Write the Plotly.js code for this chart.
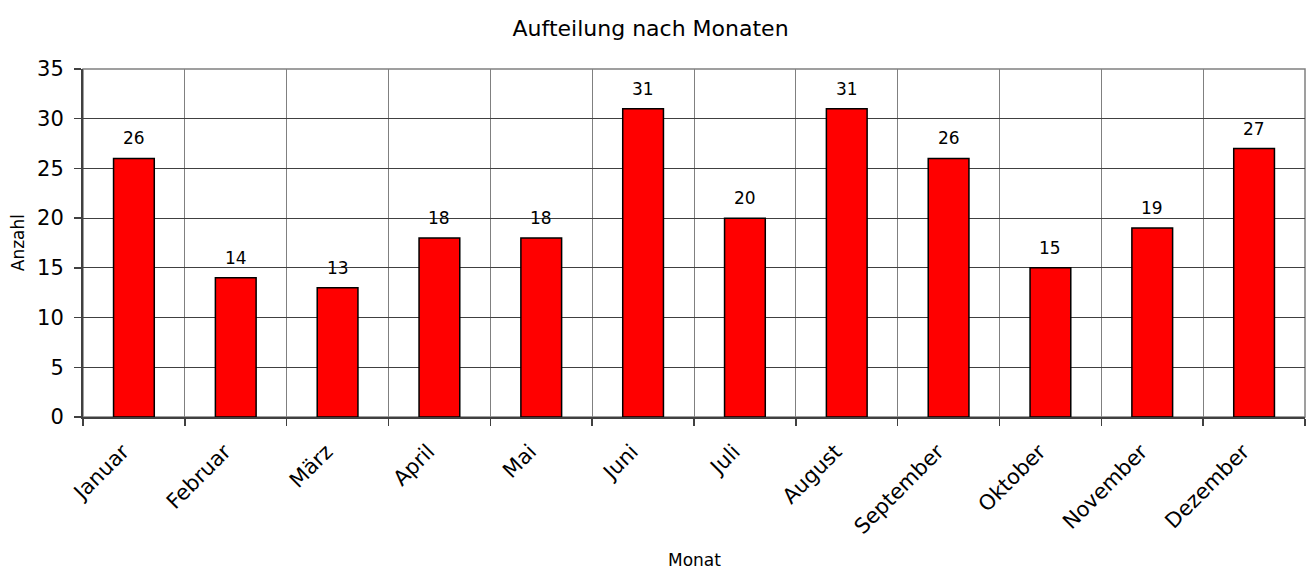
<!DOCTYPE html>
<html>
<head>
<meta charset="utf-8">
<script src="https://cdn.plot.ly/plotly-3.0.1.min.js"></script>
<style>
	html, body { margin: 0; padding: 0; background: #fff; }
	#chart { width: 1309px; height: 572px; }
</style>
</head>
<body>
<div id="chart"></div>
<script>
// Monate und Anzahl
const monate = ["Januar", "Februar", "März", "April", "Mai", "Juni", "Juli", "August", "September", "Oktober", "November", "Dezember"];
const anzahl = [26, 14, 13, 18, 18, 31, 20, 31, 26, 15, 19, 27];
const yTicks = [0, 5, 10, 15, 20, 25, 30, 35];

const schrift = "DejaVu Sans, Verdana, sans-serif";

let trace = {
	x: monate,
	y: anzahl,
	type: "bar",
	width: 0.4,
	marker: {
		color: "#ff0000",
		line: { color: "#000000", width: 1.5 },
	},
	hoverinfo: "x+y",
};

// Werte über den Balken
let beschriftungen = monate.map((m, i) => ({
	x: m,
	y: anzahl[i],
	text: String(anzahl[i]),
	showarrow: false,
	yanchor: "bottom",
	yshift: 8,
	font: { family: schrift, size: 17, color: "#000" },
}));

// Achsentitel
beschriftungen.push({
	text: "Monat",
	xref: "paper",
	yref: "paper",
	x: 0.5,
	y: -0.41,
	xanchor: "center",
	yanchor: "middle",
	showarrow: false,
	borderpad: 0,
	font: { family: schrift, size: 17, color: "#000" },
});
beschriftungen.push({
	text: "Anzahl",
	xref: "paper",
	yref: "paper",
	x: -0.053,
	y: 0.5,
	xanchor: "center",
	yanchor: "middle",
	textangle: -90,
	showarrow: false,
	font: { family: schrift, size: 17, color: "#000" },
});

let layout = {
	title: {
		text: "Aufteilung nach Monaten",
		font: { family: schrift, size: 22, color: "#000" },
		xref: "container",
		x: 0.497,
		xanchor: "center",
		yref: "container",
		y: 0.951,
		yanchor: "middle",
	},
	width: 1309,
	height: 572,
	margin: { l: 83, r: 4, t: 69, b: 155 },
	paper_bgcolor: "#fff",
	plot_bgcolor: "#fff",
	showlegend: false,
	bargap: 0.6,
	xaxis: {
		type: "category",
		tickson: "boundaries",
		ticks: "outside",
		ticklen: 7,
		tickcolor: "#404040",
		tickwidth: 1.5,
		showgrid: true,
		gridcolor: "#808080",
		gridwidth: 1,
		showline: true,
		linecolor: "#404040",
		linewidth: 2,
		tickangle: -45,
		ticklabelstandoff: 12,
		ticklabelshift: -11,
		tickfont: { family: schrift, size: 21, color: "#000" },
		fixedrange: true,
	},
	yaxis: {
		range: [0, 35],
		tickvals: yTicks,
		ticks: "outside",
		ticklen: 7,
		tickcolor: "#404040",
		tickwidth: 1.5,
		showgrid: true,
		gridcolor: "#404040",
		gridwidth: 1,
		zeroline: false,
		showline: true,
		linecolor: "#404040",
		linewidth: 2,
		ticklabelstandoff: 6,
		tickfont: { family: schrift, size: 21, color: "#000" },
		fixedrange: true,
	},
	shapes: [
		{
			type: "rect",
			xref: "paper",
			yref: "paper",
			x0: 0,
			x1: 1,
			y0: 0,
			y1: 1,
			line: { color: "#808080", width: 1.5 },
			layer: "below",
		},
	],
	annotations: beschriftungen,
};

Plotly.newPlot("chart", [trace], layout, { displayModeBar: false, staticPlot: true });
</script>
</body>
</html>
